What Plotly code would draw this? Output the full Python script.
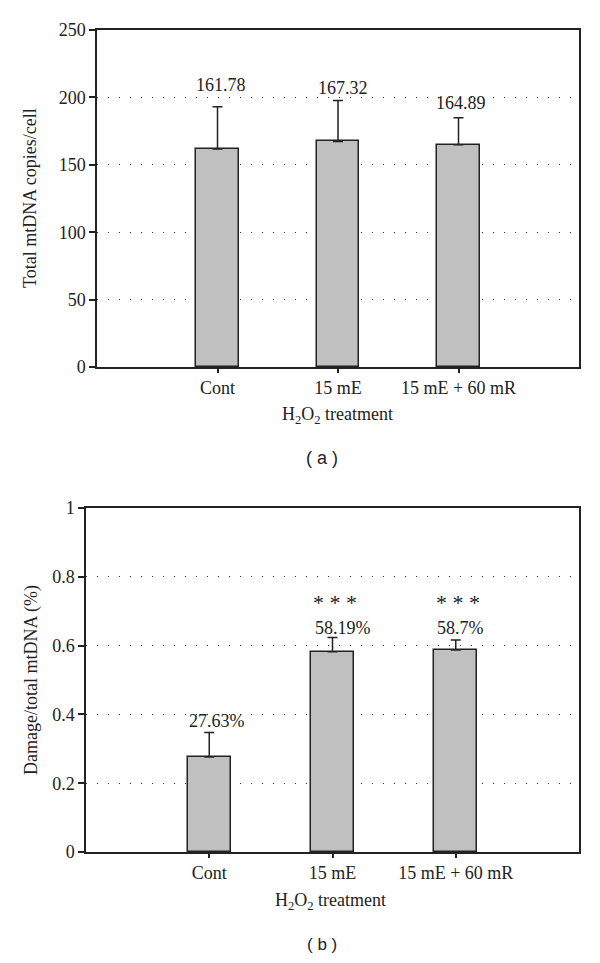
import plotly.graph_objects as go

# Data
groups = ['Cont', '15 mE', '15 mE + 60 mR']

copies = [161.78, 167.32, 164.89]
copies_err = [31.3, 30.3, 20.1]
copies_labels = ['161.78', '167.32', '164.89']

damage = [0.2763, 0.5819, 0.587]
damage_err = [0.071, 0.042, 0.029]
damage_labels = ['27.63%', '58.19%', '58.7%']
damage_sig = ['', '***', '***']

# the page body has an 8px margin, so the figure is 16px smaller than the window
OFF = 8
W, H = 600 - 2 * OFF, 963 - 2 * OFF
FONT = 'Liberation Serif'
INK = '#222222'

# small pixel nudges for the value labels (style only)
shift_a = [(3, 10), (5, 1), (2, 3)]
shift_b = [(8, 0), (10, -3), (5, 0)]
sig_shift = [0, 20, 23]

def px_x(p):
    return (p - OFF) / W

def px_y(p):
    return 1 - (p - OFF) / H

xpos = list(range(len(groups)))

fig = go.Figure()

# Panel (a)
fig.add_trace(go.Bar(
    x=xpos, y=copies, width=0.35,
    marker=dict(color='#c0c0c0', line=dict(color=INK, width=1.5)),
    error_y=dict(type='data', array=copies_err, arrayminus=[0] * 3, symmetric=False,
                 color=INK, thickness=1.5, width=5),
    xaxis='x', yaxis='y', showlegend=False, hoverinfo='skip'
))

# Panel (b)
fig.add_trace(go.Bar(
    x=xpos, y=damage, width=0.35,
    marker=dict(color='#c0c0c0', line=dict(color=INK, width=1.5)),
    error_y=dict(type='data', array=damage_err, arrayminus=[0] * 3, symmetric=False,
                 color=INK, thickness=1.5, width=5),
    xaxis='x2', yaxis='y2', showlegend=False, hoverinfo='skip'
))

axis_common = dict(
    showline=True, linecolor=INK, linewidth=1.5, mirror=True,
    ticks='outside', tickcolor=INK, ticklen=6, tickwidth=1.5,
    tickfont=dict(family=FONT, size=18, color=INK), zeroline=False,
    automargin=False,
)

xcommon = dict(axis_common, range=[-1, 3], tickvals=xpos, ticktext=groups,
               showgrid=False, ticklen=4)
ycommon = dict(axis_common, showgrid=True, gridcolor='#333333', gridwidth=1,
               griddash='1px,10px')

fig.update_layout(
    width=W, height=H,
    margin=dict(l=0, r=0, t=0, b=0, autoexpand=False),
    paper_bgcolor='white', plot_bgcolor='white',
    bargap=0,
    xaxis=dict(xcommon, domain=[px_x(97), px_x(579)], anchor='y'),
    yaxis=dict(ycommon, domain=[px_y(367), px_y(30)], anchor='x',
               range=[0, 250], tickvals=[0, 50, 100, 150, 200, 250]),
    xaxis2=dict(xcommon, domain=[px_x(86), px_x(579)], anchor='y2'),
    yaxis2=dict(ycommon, domain=[px_y(852), px_y(508)], anchor='x2',
                range=[0, 1], tickvals=[0, 0.2, 0.4, 0.6, 0.8, 1],
                ticktext=['0', '0.2', '0.4', '0.6', '0.8', '1']),
)

annotations = []

# value labels above the error bars
for i, (v, e, t) in enumerate(zip(copies, copies_err, copies_labels)):
    dx, dy = shift_a[i]
    annotations.append(dict(x=i, y=v + e, xref='x', yref='y', text=t, showarrow=False,
                            xanchor='center', yanchor='bottom', xshift=dx, yshift=dy,
                            font=dict(family=FONT, size=18, color=INK)))

for i, (v, e, t, s) in enumerate(zip(damage, damage_err, damage_labels, damage_sig)):
    dx, dy = shift_b[i]
    annotations.append(dict(x=i, y=v + e, xref='x2', yref='y2', text=t, showarrow=False,
                            xanchor='center', yanchor='bottom', xshift=dx, yshift=dy,
                            font=dict(family=FONT, size=18, color=INK)))
    if s:
        annotations.append(dict(x=i, y=v + e, xref='x2', yref='y2', text='* * *',
                                showarrow=False, xanchor='center', yanchor='bottom',
                                xshift=2, yshift=sig_shift[i],
                                font=dict(family=FONT, size=22, color=INK)))

# axis titles and panel letters (explicit anchors, centred on the given point)
def label(x, y, text, angle=0, family=FONT, size=18):
    return dict(x=px_x(x), y=px_y(y), xref='paper', yref='paper', text=text,
                textangle=angle, showarrow=False, xanchor='center', yanchor='middle',
                font=dict(family=family, size=size, color=INK))

annotations += [
    label(30, 198, 'Total mtDNA copies/cell', angle=-90),
    label(31, 680, 'Damage/total mtDNA (%)', angle=-90),
    label(337, 415, 'H<sub>2</sub>O<sub>2</sub> treatment'),
    label(330, 901, 'H<sub>2</sub>O<sub>2</sub> treatment'),
    label(322, 458, '( a )', family='Liberation Sans'),
    label(322, 944, '( b )', family='Liberation Sans', size=17),
]

fig.update_layout(annotations=annotations)

fig.write_html("out.html")
